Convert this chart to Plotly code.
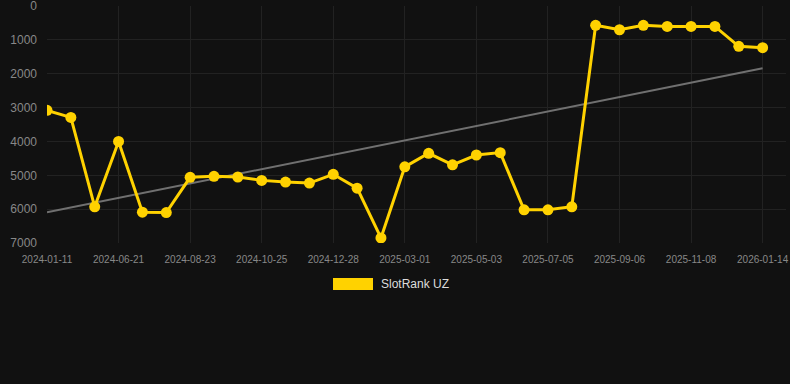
import numpy as np
import plotly.graph_objects as go

dates = ["2024-01-11", "2024-05-10", "2024-05-31", "2024-06-21", "2024-07-12", "2024-08-02",
         "2024-08-23", "2024-09-13", "2024-10-04", "2024-10-25", "2024-11-15", "2024-12-06",
         "2024-12-28", "2025-01-18", "2025-02-08", "2025-03-01", "2025-03-22", "2025-04-12",
         "2025-05-03", "2025-05-24", "2025-06-14", "2025-07-05", "2025-07-26", "2025-08-16",
         "2025-09-06", "2025-09-27", "2025-10-18", "2025-11-08", "2025-11-29", "2025-12-20",
         "2026-01-14"]
rank = [3080, 3290, 5930, 4000, 6090, 6100, 5060, 5030, 5050, 5150, 5200, 5230, 4970, 5380,
        6850, 4750, 4350, 4690, 4400, 4330, 6020, 6020, 5930, 570, 700, 570, 600, 600, 600,
        1190, 1230]
series_name = "SlotRank UZ"
y_ticks = [0, 1000, 2000, 3000, 4000, 5000, 6000, 7000]

idx = np.arange(len(dates))
coef = np.polyfit(idx, rank, 1)
trend = np.polyval(coef, idx)

gold = "#FFD200"
fig = go.Figure()
fig.add_trace(go.Scatter(x=idx, y=trend, mode="lines",
                         line=dict(color="#707070", width=2), hoverinfo="skip",
                         showlegend=False))
fig.add_trace(go.Scatter(x=idx, y=rank, mode="lines+markers", name=series_name,
                         line=dict(color=gold, width=3),
                         marker=dict(color=gold, size=11),
                         showlegend=False))

tick_idx = list(range(0, len(dates), 3))
fig.update_layout(
    width=790, height=384,
    paper_bgcolor="#111111", plot_bgcolor="#111111",
    margin=dict(l=47, r=4, t=6, b=141),
    font=dict(family="Liberation Sans, Arial, sans-serif", color="#888888"),
    xaxis=dict(range=[0, 30.98], tickvals=tick_idx, ticktext=[dates[i] for i in tick_idx],
               tickangle=0, automargin=False,
               showgrid=True, gridcolor="#222222", gridwidth=1, zeroline=False,
               showline=False, tickfont=dict(size=10, color="#888888"),
               ticks="", ticklabelstandoff=9),
    yaxis=dict(range=[7000, -2], tickvals=y_ticks, showgrid=True, gridcolor="#222222",
               zeroline=False, showline=False, tickfont=dict(size=12, color="#888888"),
               ticks="", ticklabelstandoff=9, ticklabeloverflow="allow", automargin=False),
    showlegend=False,
    shapes=[dict(type="rect", xref="paper", yref="paper",
                 x0=(333 - 47) / 739, x1=(373 - 47) / 739,
                 y0=(243 - 290) / 237, y1=(243 - 278) / 237,
                 fillcolor=gold, line=dict(width=0))],
    annotations=[dict(text=series_name, xref="paper", yref="paper",
                      x=(379 - 47) / 739, y=(243 - 284) / 237,
                      xanchor="left", yanchor="middle", showarrow=False,
                      font=dict(size=12, color="#dddddd"))],
)
fig.write_html("out.html", config={"displayModeBar": False},
               post_script="document.body.style.margin='0';document.body.style.background='#111111';")
